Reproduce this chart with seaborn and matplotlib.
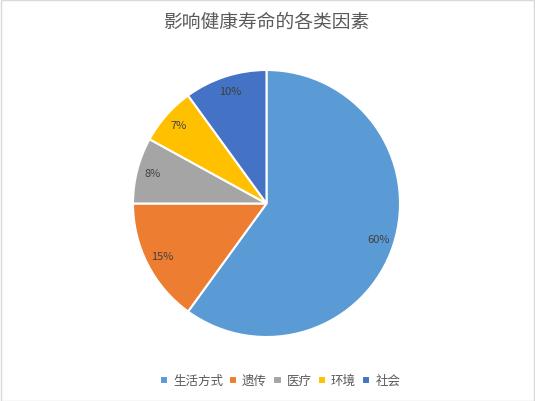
import matplotlib
matplotlib.use("Agg")
from matplotlib import pyplot as plt
from matplotlib.patches import Rectangle
import seaborn as sns

# data
categories = ["生活方式", "遗传", "医疗", "环境", "社会"]
shares = [60, 15, 8, 7, 10]
colors = ["#5B9BD5", "#ED7D31", "#A5A5A5", "#FFC000", "#4472C4"]
title = "影响健康寿命的各类因素"

sns.set_theme(style="white")
plt.rcParams['font.family'] = ['Noto Sans CJK SC', 'DejaVu Sans']

fig = plt.figure(figsize=(5.35, 4.01), dpi=100)
fig.patch.set_facecolor("white")

# pie area: center ~ (266.5, 203.5) px, radius ~133.5 px
W, H = 535, 401
ax = fig.add_axes([133 / W, 1 - 337 / H, 267 / W, 267 / H])
palette = sns.color_palette(colors)

wedges, texts, autotexts = ax.pie(
    shares, colors=palette, startangle=90, counterclock=False,
    autopct="%d%%", pctdistance=0.88, radius=1,
    wedgeprops=dict(edgecolor="white", linewidth=1.5),
    textprops=dict(fontsize=8, color="#404040"))
ax.set_xlim(-1, 1)
ax.set_ylim(-1, 1)
ax.set_aspect("equal")
ax.axis("off")

fig.text(0.5, 1 - 22 / H, title, ha="center", va="center",
         fontsize=13.5, color="#595959")

leg = fig.legend(wedges, categories, loc="center", bbox_to_anchor=(280 / W, 1 - 381 / H),
                 ncol=5, frameon=False, fontsize=9, handlelength=0.65, handleheight=0.65,
                 handletextpad=0.4, columnspacing=0.5, labelcolor="#595959")

# thin figure border
fig.patches.append(Rectangle((0.001, 0.001), 0.998, 0.998, transform=fig.transFigure,
                             fill=False, edgecolor="#D9D9D9", linewidth=1))

fig.savefig("out.png", dpi=100)
